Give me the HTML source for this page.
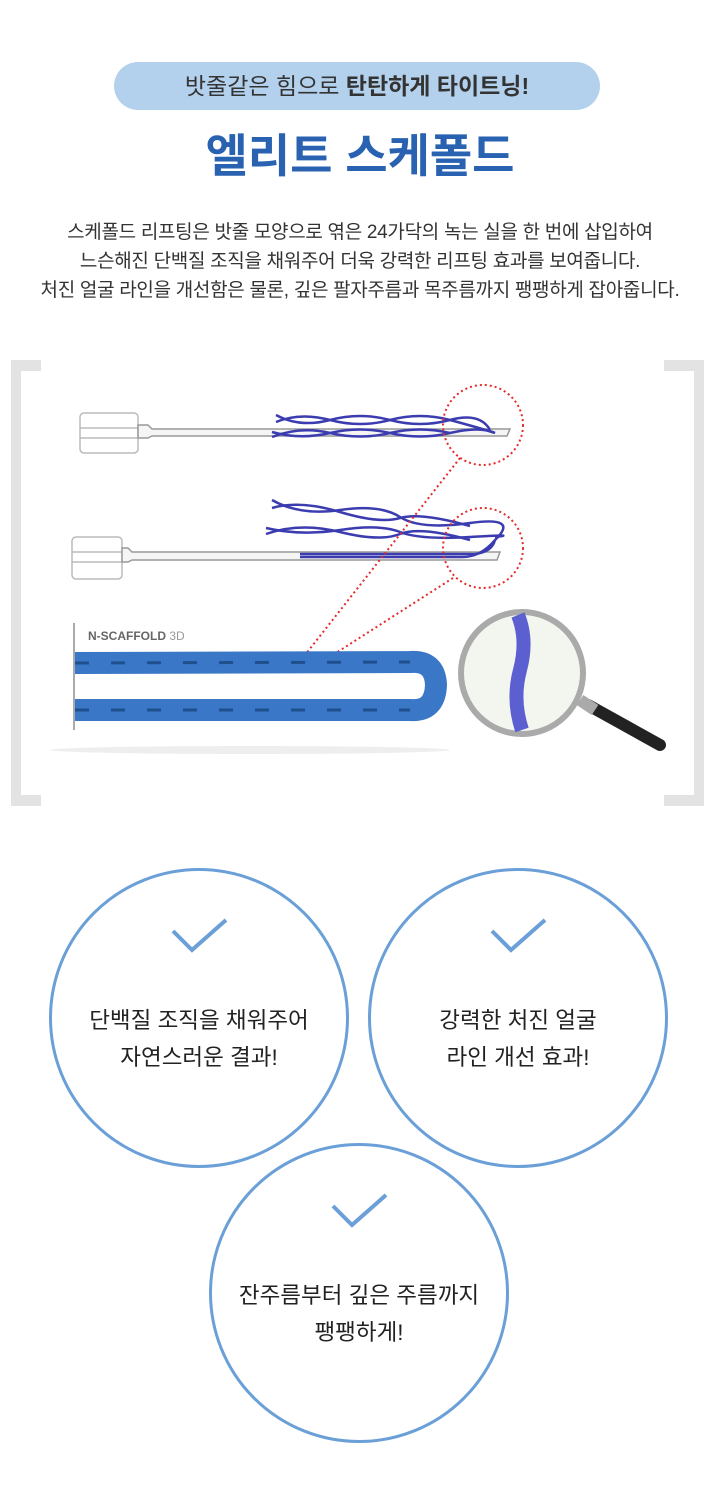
<!DOCTYPE html>
<html><head><meta charset="utf-8"><style>
body{margin:0;width:720px;height:1508px;background:#fff;position:relative;font-family:"Liberation Sans","Noto Sans CJK KR",sans-serif;overflow:hidden}
.pill{position:absolute;left:114px;top:62px;width:486px;height:48px;border-radius:24px;background:#b3d1ec;color:#333;font-size:23px;text-align:center;line-height:48px}
.title{position:absolute;left:0;width:720px;top:126px;text-align:center;color:#2862b0;font-size:46px;font-weight:bold;line-height:60px}
.desc{position:absolute;left:0;width:720px;top:218px;text-align:center;color:#333;font-size:19px;line-height:29px;letter-spacing:-0.3px}
.circ{position:absolute;width:294px;height:294px;border:3px solid #6a9fd7;border-radius:50%;background:#fff;text-align:center;box-sizing:content-box}
.circ .t{position:absolute;top:131px;width:100%;font-size:22.5px;line-height:37px;color:#222}
.circ svg{position:absolute;left:118px;top:46px}
</style></head><body>
<div class="pill">밧줄같은 힘으로 <b>탄탄하게 타이트닝!</b></div>
<div class="title">엘리트 스케폴드</div>
<div class="desc">스케폴드 리프팅은 밧줄 모양으로 엮은 24가닥의 녹는 실을 한 번에 삽입하여<br>느슨해진 단백질 조직을 채워주어 더욱 강력한 리프팅 효과를 보여줍니다.<br>처진 얼굴 라인을 개선함은 물론, 깊은 팔자주름과 목주름까지 팽팽하게 잡아줍니다.</div>
<svg style="position:absolute;left:0;top:340px" width="720" height="480">
<g fill="#e3e3e3"><rect x="11" y="20" width="10" height="446"/><rect x="11" y="20" width="30" height="11"/><rect x="11" y="455" width="30" height="11"/>
<rect x="694" y="20" width="10" height="446"/><rect x="664" y="20" width="40" height="11"/><rect x="664" y="455" width="40" height="11"/></g>
<g fill="none" stroke="#bbb" stroke-width="1.5">
<rect x="80" y="73" width="58" height="40" rx="4"/><line x1="80" y1="88" x2="138" y2="88"/><line x1="80" y1="98" x2="138" y2="98"/>
<rect x="72" y="197" width="50" height="42" rx="4"/><line x1="72" y1="212" x2="122" y2="212"/><line x1="72" y1="222" x2="122" y2="222"/>
</g>
<path d="M138 85 L148 85 L152 89 L510 89 L507 96 L152 96 L148 98 L138 98Z" fill="#f5f5f5" stroke="#999" stroke-width="1.5"/>
<path d="M122 208 L128 208 L132 212 L500 212 L497 220 L132 220 L128 222 L122 222Z" fill="#f5f5f5" stroke="#999" stroke-width="1.5"/>
<g fill="none" stroke="#3b3cb0" stroke-width="2.5">
<path d="M276 75 Q300 88 330 80 T390 80 T450 80 T490 90"/><path d="M276 82 Q300 72 330 80 T390 80 T450 80 T495 93"/>
<path d="M272 92 Q300 100 330 93 T390 93 T450 93 T495 93"/><path d="M272 97 Q300 86 330 93 T390 93 T450 93"/>
<path d="M272 160 Q300 176 340 170 T400 177 T470 183 T495 200"/><path d="M272 168 Q300 160 340 172 T400 178 T470 186"/>
<path d="M266 188 Q300 196 340 190 T400 192 T470 197 T495 197"/><path d="M266 194 Q300 182 340 192 T400 194 T470 200"/>
<path d="M495 200 Q492 212 475 214 L300 214"/><path d="M495 200 Q480 218 460 217 L300 217"/>
</g>
<g fill="none" stroke="#e52a2a" stroke-width="2" stroke-dasharray="2 3">
<circle cx="483" cy="85" r="40"/><circle cx="483" cy="208" r="40"/>
<line x1="460" y1="118" x2="305" y2="315"/><line x1="453" y1="238" x2="325" y2="320"/>
</g>
<line x1="74" y1="283" x2="74" y2="390" stroke="#555" stroke-width="1"/>
<text x="88" y="300" font-size="12" font-weight="bold" fill="#666" font-family="Liberation Sans,sans-serif">N-SCAFFOLD <tspan font-weight="normal" fill="#999">3D</tspan></text>
<path d="M75 323 L410 322 Q435 320 436 345 Q435 372 410 370 L75 370" fill="none" stroke="#3a78c7" stroke-width="22"/>
<path d="M75 323 L410 322 M75 370 L410 370" fill="none" stroke="#1f4f8d" stroke-width="3" stroke-dasharray="14 22"/>
<ellipse cx="250" cy="410" rx="200" ry="4" fill="#eee"/>
<line x1="588" y1="365" x2="660" y2="405" stroke="#222" stroke-width="12" stroke-linecap="round"/>
<line x1="580" y1="360" x2="595" y2="370" stroke="#aaa" stroke-width="12"/>
<circle cx="522" cy="333" r="61" fill="#f3f5ef" stroke="#aaa" stroke-width="6"/>
<path d="M518 275 Q528 300 520 330 Q512 360 522 390" stroke="#5b5fd0" stroke-width="14" fill="none"/>
</svg>
<div class="circ" style="left:49px;top:868px"><svg width="60" height="40"><path d="M3 14 L22 33 L56 3" fill="none" stroke="#6a9fd7" stroke-width="4"/></svg><div class="t">단백질 조직을 채워주어<br>자연스러운 결과!</div></div>
<div class="circ" style="left:368px;top:868px"><svg width="60" height="40"><path d="M3 14 L22 33 L56 3" fill="none" stroke="#6a9fd7" stroke-width="4"/></svg><div class="t">강력한 처진 얼굴<br>라인 개선 효과!</div></div>
<div class="circ" style="left:209px;top:1143px"><svg width="60" height="40"><path d="M3 14 L22 33 L56 3" fill="none" stroke="#6a9fd7" stroke-width="4"/></svg><div class="t">잔주름부터 깊은 주름까지<br>팽팽하게!</div></div>
</body></html>
